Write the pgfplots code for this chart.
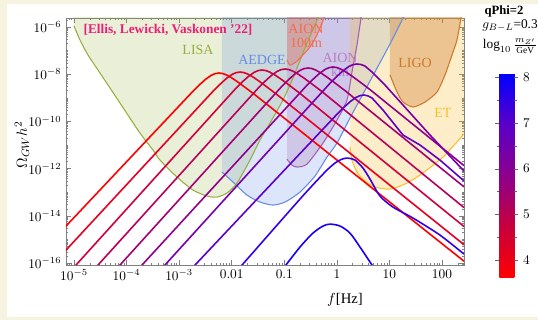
\documentclass[border=0pt]{standalone}
\usepackage{pgfplots}
\pgfplotsset{compat=1.18}
\usepackage{fontspec}
\setmainfont{Liberation Serif}
\definecolor{cream}{RGB}{246,244,224}
\definecolor{c1}{RGB}{255,0,0}
\definecolor{c2}{RGB}{232,0,35}
\definecolor{c3}{RGB}{208,0,62}
\definecolor{c4}{RGB}{186,0,90}
\definecolor{c5}{RGB}{165,0,115}
\definecolor{c6}{RGB}{145,0,140}
\definecolor{c7}{RGB}{120,0,170}
\definecolor{c8}{RGB}{95,0,200}
\definecolor{c9}{RGB}{55,0,235}
\definecolor{c10}{RGB}{25,0,250}
\definecolor{lisa}{RGB}{150,175,60}
\definecolor{aedge}{RGB}{100,140,230}
\definecolor{aionkm}{RGB}{165,95,175}
\definecolor{aionm}{RGB}{240,110,75}
\definecolor{et}{RGB}{250,190,40}
\definecolor{ligo}{RGB}{205,120,45}
\definecolor{ellis}{RGB}{238,30,120}
\begin{document}
\begin{tikzpicture}
\path[use as bounding box] (-49.5pt,-41.25pt) rectangle (354pt,198.75pt);
\fill[cream] (-49.5pt,-41.25pt) rectangle (354pt,198.75pt);
\fill[white] (-44.25pt,-39pt) rectangle (354pt,195.75pt);
\begin{axis}[
  scale only axis, width=298.5pt, height=185.25pt,
  xmin=-5.152, xmax=2.419, ymin=-16.08, ymax=-5.619,
  xtick={-5,...,2},
  xticklabels={$10^{-5}$,$10^{-4}$,$10^{-3}$,$0.01$,$0.1$,$1$,$10$,$100$},
  ytick={-16,-14,-12,-10,-8,-6},
  yticklabels={$10^{-16}$,$10^{-14}$,$10^{-12}$,$10^{-10}$,$10^{-8}$,$10^{-6}$},
  minor xtick={-5.097,-5.046,
   -4.699,-4.523,-4.398,-4.301,-4.222,-4.155,-4.097,-4.046,
   -3.699,-3.523,-3.398,-3.301,-3.222,-3.155,-3.097,-3.046,
   -2.699,-2.523,-2.398,-2.301,-2.222,-2.155,-2.097,-2.046,
   -1.699,-1.523,-1.398,-1.301,-1.222,-1.155,-1.097,-1.046,
   -0.699,-0.523,-0.398,-0.301,-0.222,-0.155,-0.097,-0.046,
   0.301,0.477,0.602,0.699,0.778,0.845,0.903,0.954,
   1.301,1.477,1.602,1.699,1.778,1.845,1.903,1.954,2.301},
  minor ytick={-16.046,-15,-13,-11,-9,-7,
   -15.699,-15.523,-15.398,-15.301,-15.222,-15.155,-15.097,-15.046,
   -14.699,-14.523,-14.398,-14.301,-14.222,-14.155,-14.097,-14.046,
   -13.699,-13.523,-13.398,-13.301,-13.222,-13.155,-13.097,-13.046,
   -12.699,-12.523,-12.398,-12.301,-12.222,-12.155,-12.097,-12.046,
   -11.699,-11.523,-11.398,-11.301,-11.222,-11.155,-11.097,-11.046,
   -10.699,-10.523,-10.398,-10.301,-10.222,-10.155,-10.097,-10.046,
   -9.699,-9.523,-9.398,-9.301,-9.222,-9.155,-9.097,-9.046,
   -8.699,-8.523,-8.398,-8.301,-8.222,-8.155,-8.097,-8.046,
   -7.699,-7.523,-7.398,-7.301,-7.222,-7.155,-7.097,-7.046,
   -6.699,-6.523,-6.398,-6.301,-6.222,-6.155,-6.097,-6.046,-5.699},
  tick align=inside, major tick length=3.5pt, minor tick length=1.8pt,
  axis line style={black!50}, tick style={black!50, line width=0.4pt},
  ticklabel style={font=\fontsize{10}{12}\selectfont},
  xlabel={$f$[Hz]}, ylabel={$\Omega_{GW}h^2$},
  label style={font=\fontsize{11}{13}\selectfont},
  xlabel style={at={(axis description cs:0.701,0)}, anchor=center, yshift=-26pt},
  ylabel style={at={(axis description cs:-0.1106,0.486)}, anchor=center},
  colormap={rb}{rgb255=(255,0,0) rgb255=(200,0,60) rgb255=(140,0,140) rgb255=(90,0,200) rgb255=(0,0,255)},
  point meta min=3.6, point meta max=8.1,
  colorbar,
  colorbar style={at={(parent axis.south east)}, anchor=south west,
    xshift=18pt, yshift=-9.75pt, scale only axis,
    width=11.25pt, height=153.75pt,
    ytick={4,5,6,7,8}, minor ytick={4.5,5.5,6.5,7.5},
    axis line style={draw=none}, tick align=outside,
    tick style={black!60}, major tick length=3pt, minor tick length=1.8pt,
    yticklabel style={font=\fontsize{10}{12}\selectfont}},
]
% ---- sensitivity regions (fills)
\addplot[draw=none, fill=lisa, fill opacity=0.2] coordinates {
(-5.0,-5.4) (-5.0,-5.958) (-4.886,-6.551) (-4.734,-7.186) (-4.505,-7.949) (-4.125,-9.220) (-3.745,-10.492) (-3.497,-11.212) (-3.364,-11.636) (-3.041,-12.356) (-2.736,-12.907) (-2.470,-13.161) (-2.280,-13.203) (-2.090,-13.034) (-1.899,-12.610) (-1.652,-11.636) (-1.462,-10.788) (-1.272,-10.068) (-1.024,-9.093) (-0.834,-8.161) (-0.606,-6.890) (-0.359,-5.619) (-0.33,-5.4)} -- cycle;
\addplot[draw=none, fill=aedge, fill opacity=0.22] coordinates {
(-2.185,-5.4) (-2.185,-12.144) (-1.975,-12.568) (-1.709,-13.119) (-1.462,-13.415) (-1.215,-13.542) (-0.986,-13.415) (-0.701,-12.992) (-0.416,-12.314) (-0.187,-11.508) (0.003,-10.915) (0.250,-9.856) (0.497,-8.839) (0.745,-7.822) (1.011,-6.720) (1.258,-5.619) (1.29,-5.4)} -- cycle;
\addplot[draw=none, fill=aionkm, fill opacity=0.22] coordinates {
(-0.948,-5.4) (-0.948,-11.6) (-0.853,-11.85) (-0.758,-11.932) (-0.568,-11.805) (-0.263,-10.915) (0.003,-9.941) (0.193,-9.093) (0.288,-7.907) (0.383,-6.763) (0.459,-5.619) (0.47,-5.4)} -- cycle;
\addplot[draw=none, fill=aionm, fill opacity=0.3] coordinates {
(-0.948,-5.4) (-0.948,-7.398) (-0.891,-7.610) (-0.777,-7.483) (-0.644,-7.186) (-0.511,-6.847) (-0.378,-6.339) (-0.244,-5.619) (-0.23,-5.4)} -- cycle;
\addplot[draw=none, fill=et, fill opacity=0.25] coordinates {
(0.25,-5.4) (0.250,-11.085) (0.288,-11.636) (0.383,-12.144) (0.535,-12.525) (0.726,-12.780) (1.011,-12.864) (1.296,-12.653) (1.582,-12.271) (2.019,-11.508) (2.419,-10.534) (2.5,-10.3) (2.5,-5.4)} -- cycle;
\addplot[draw=none, fill=ligo, fill opacity=0.35] coordinates {
(1.011,-5.4) (1.011,-8.034) (1.144,-8.754) (1.258,-9.178) (1.449,-9.390) (1.677,-9.178) (1.905,-8.754) (2.057,-8.034) (2.190,-7.186) (2.285,-6.551) (2.362,-5.619) (2.38,-5.4)} -- cycle;
% ---- boundaries
\addplot[lisa, line width=0.8pt, smooth, tension=0.4] coordinates {
(-5.0,-5.958) (-4.886,-6.551) (-4.734,-7.186) (-4.505,-7.949) (-4.125,-9.220) (-3.745,-10.492) (-3.497,-11.212) (-3.364,-11.636) (-3.041,-12.356) (-2.736,-12.907) (-2.470,-13.161) (-2.280,-13.203) (-2.090,-13.034) (-1.899,-12.610) (-1.652,-11.636) (-1.462,-10.788) (-1.272,-10.068) (-1.024,-9.093) (-0.834,-8.161) (-0.606,-6.890) (-0.359,-5.619) (-0.33,-5.4)};
\addplot[aedge, line width=0.8pt, smooth, tension=0.4] coordinates {
(-2.185,-12.144) (-1.975,-12.568) (-1.709,-13.119) (-1.462,-13.415) (-1.215,-13.542) (-0.986,-13.415) (-0.701,-12.992) (-0.416,-12.314) (-0.187,-11.508) (0.003,-10.915) (0.250,-9.856) (0.497,-8.839) (0.745,-7.822) (1.011,-6.720) (1.258,-5.619) (1.29,-5.4)};
\addplot[aionkm, line width=0.8pt, smooth, tension=0.4] coordinates {
(-0.948,-11.6) (-0.853,-11.85) (-0.758,-11.932) (-0.568,-11.805) (-0.263,-10.915) (0.003,-9.941) (0.193,-9.093) (0.288,-7.907) (0.383,-6.763) (0.459,-5.619) (0.47,-5.4)};
\addplot[aionm, line width=0.8pt, smooth, tension=0.4] coordinates {
(-0.948,-7.398) (-0.891,-7.610) (-0.777,-7.483) (-0.644,-7.186) (-0.511,-6.847) (-0.378,-6.339) (-0.244,-5.619) (-0.23,-5.4)};
\addplot[et, line width=0.8pt, smooth, tension=0.4] coordinates {
(0.250,-11.085) (0.288,-11.636) (0.383,-12.144) (0.535,-12.525) (0.726,-12.780) (1.011,-12.864) (1.296,-12.653) (1.582,-12.271) (2.019,-11.508) (2.419,-10.534) (2.5,-10.3)};
\addplot[ligo, line width=0.8pt, smooth, tension=0.4] coordinates {
(1.011,-8.034) (1.144,-8.754) (1.258,-9.178) (1.449,-9.390) (1.677,-9.178) (1.905,-8.754) (2.057,-8.034) (2.190,-7.186) (2.285,-6.551) (2.362,-5.619) (2.38,-5.4)};
% ---- labels of regions
\node[font=\bfseries\fontsize{10}{11}\selectfont, text=ellis] at (axis cs:-3.212,-6.127) {[Ellis, Lewicki, Vaskonen '22]};
\node[font=\fontsize{10.5}{12}\selectfont, text=lisa] at (axis cs:-2.641,-6.975) {LISA};
\node[font=\fontsize{10.5}{12}\selectfont, text=aedge] at (axis cs:-1.424,-7.398) {AEDGE};
\node[font=\fontsize{10.5}{11}\selectfont, text=aionm, align=center, inner sep=0pt] at (axis cs:-0.587,-6.381) {AION\\100m};
\node[font=\fontsize{10.5}{11}\selectfont, text=aionkm!80, align=center, inner sep=0pt] at (axis cs:0.06,-7.61) {AION\\km};
\node[font=\fontsize{10.5}{12}\selectfont, text=ligo] at (axis cs:1.487,-7.525) {LIGO};
\node[font=\fontsize{10.5}{12}\selectfont, text=et] at (axis cs:2.019,-9.644) {ET};
% ---- spectra
\addplot[c1, line width=1.2pt] coordinates {(-5.3,-14.782) (-2.742,-8.733) (-2.592,-8.405) (-2.492,-8.208) (-2.392,-8.049) (-2.317,-7.975) (-2.242,-7.949) (-2.167,-7.973) (-2.092,-8.038) (-1.992,-8.165) (-1.892,-8.316) (-1.742,-8.562) (-1.542,-8.899) (2.419,-15.92)};
\addplot[c2, line width=1.2pt] coordinates {(-5.3,-15.805) (-2.342,-8.691) (-2.192,-8.363) (-2.092,-8.166) (-1.992,-8.007) (-1.917,-7.933) (-1.842,-7.907) (-1.767,-7.931) (-1.692,-7.996) (-1.592,-8.123) (-1.492,-8.274) (-1.342,-8.520) (-1.142,-8.857) (2.419,-15.22)};
\addplot[c3, line width=1.2pt] coordinates {(-5.051,-16.3) (-1.924,-8.606) (-1.774,-8.278) (-1.674,-8.081) (-1.574,-7.922) (-1.499,-7.848) (-1.424,-7.822) (-1.349,-7.846) (-1.274,-7.911) (-1.174,-8.038) (-1.074,-8.189) (-0.924,-8.435) (-0.724,-8.772) (2.419,-14.45)};
\addplot[c4, line width=1.2pt] coordinates {(-4.632,-16.3) (-1.486,-8.564) (-1.336,-8.236) (-1.236,-8.039) (-1.136,-7.880) (-1.061,-7.806) (-0.986,-7.780) (-0.911,-7.804) (-0.836,-7.869) (-0.736,-7.996) (-0.636,-8.147) (-0.486,-8.393) (-0.286,-8.730) (2.419,-13.65)};
\addplot[c5, line width=1.2pt] coordinates {(-4.214,-16.3) (-1.049,-8.521) (-0.899,-8.193) (-0.799,-7.996) (-0.699,-7.837) (-0.624,-7.763) (-0.549,-7.737) (-0.474,-7.761) (-0.399,-7.826) (-0.299,-7.953) (-0.199,-8.104) (-0.049,-8.350) (0.151,-8.687) (2.419,-12.77)};
\addplot[c6, line width=1.2pt] coordinates {(-3.796,-16.3) (-0.573,-8.479) (-0.423,-8.151) (-0.323,-7.954) (-0.223,-7.795) (-0.148,-7.721) (-0.073,-7.695) (0.002,-7.719) (0.077,-7.784) (0.177,-7.911) (0.277,-8.062) (0.427,-8.308) (0.627,-8.645) (2.419,-11.87)};
\addplot[c7, line width=1.2pt] coordinates {(-3.359,-16.3) (-0.117,-8.352) (0.033,-8.024) (0.133,-7.827) (0.233,-7.668) (0.308,-7.594) (0.383,-7.568) (0.460,-7.590) (0.535,-7.653) (0.669,-7.907) (0.916,-8.458) (1.258,-9.305) (1.772,-10.576) (2.419,-12.10)};
\addplot[c8, line width=1.2pt] coordinates {(-2.79,-16.3) (0.016,-9.665) (0.166,-9.337) (0.266,-9.140) (0.366,-8.981) (0.441,-8.907) (0.516,-8.881) (0.590,-8.915) (0.669,-9.008) (0.878,-9.517) (1.106,-10.153) (1.258,-10.576) (1.582,-11.0) (1.962,-11.636) (2.419,-12.52)};
\addplot[c9, line width=1.2pt, smooth, tension=0.45] coordinates {(-1.889,-16.3) (-0.701,-13.288) (-0.225,-12.144) (-0.035,-11.763) (0.079,-11.614) (0.193,-11.551) (0.345,-11.636) (0.497,-11.975) (0.631,-12.441) (0.821,-13.161) (1.068,-13.627) (1.449,-14.093) (1.962,-14.814) (2.419,-15.619)};
\addplot[c10, line width=1.2pt, smooth, tension=0.5] coordinates {(-1.044,-16.3) (-0.701,-15.32) (-0.454,-14.73) (-0.263,-14.43) (-0.130,-14.35) (0.060,-14.43) (0.250,-14.73) (0.440,-15.32) (0.669,-16.08) (0.74,-16.3)};
\end{axis}
\node[font=\bfseries\fontsize{9.5}{11}\selectfont, inner sep=0pt] at (328.5pt,190.5pt) {qPhi=2};
\node[font=\fontsize{10}{12}\selectfont, inner sep=0pt] at (333pt,179.5pt) {$g_{B-L}$=0.3};
\node[font=\fontsize{10}{12}\selectfont, inner sep=0pt] at (333pt,164.5pt) {$\log_{10}\frac{m_{Z'}}{\mathrm{GeV}}$};
\end{tikzpicture}
\end{document}
